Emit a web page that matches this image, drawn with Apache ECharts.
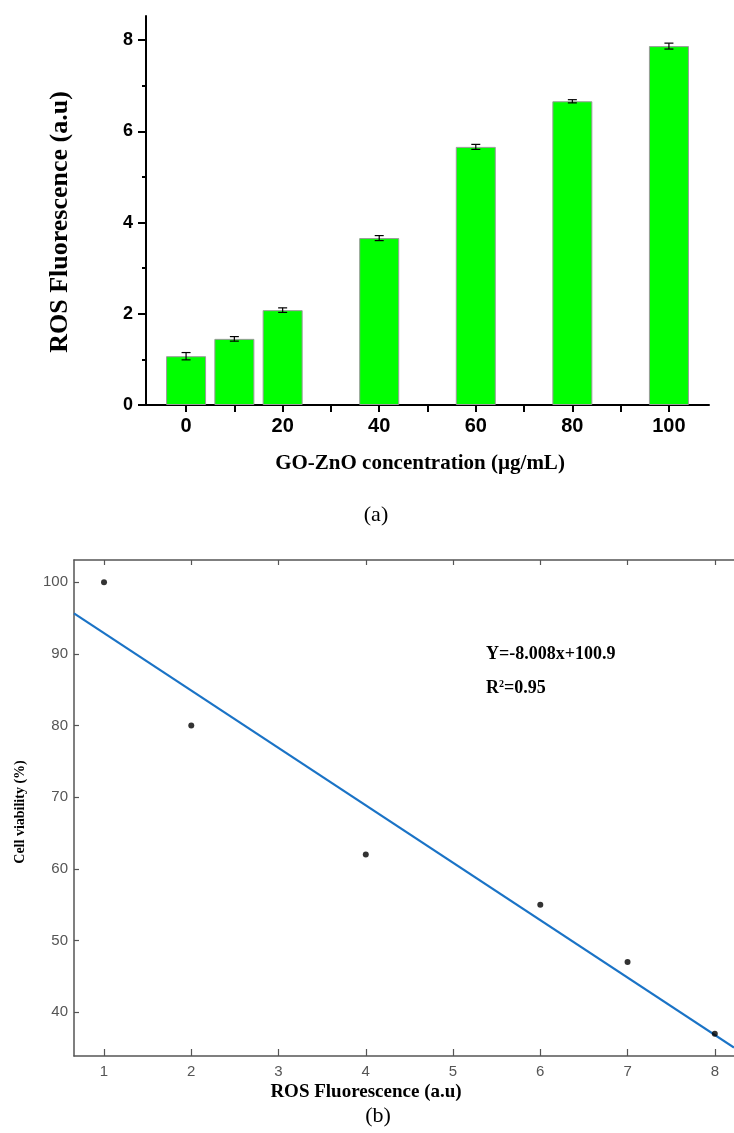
<!DOCTYPE html>
<html>
<head>
<meta charset="utf-8">
<script src="https://cdn.jsdelivr.net/npm/echarts@6/dist/echarts.min.js"></script>
<style>html,body{margin:0;padding:0;background:#fff;}#c{width:734px;height:1133px;}</style>
</head>
<body>
<div id="c"></div>
<script>
// ---- Panel (a) data ----
const concentrations = [0, 10, 20, 40, 60, 80, 100];
const rosValues = [1.07, 1.45, 2.08, 3.66, 5.66, 6.66, 7.87];
const rosErrors = [0.08, 0.05, 0.05, 0.055, 0.055, 0.035, 0.065];
const xTickValuesA = [0, 10, 20, 30, 40, 50, 60, 70, 80, 90, 100];
const xLabelValuesA = [0, 20, 40, 60, 80, 100];
const yMajorA = [0, 2, 4, 6, 8];
const yMinorA = [1, 3, 5, 7];

// ---- Panel (b) data ----
const rosFluor = [1, 2, 4, 6, 7, 8];
const viability = [100, 80, 62, 55, 47, 37];
const fitLine = [[0.656, 95.65], [8.22, 35.07]];
const xTicksB = [1, 2, 3, 4, 5, 6, 7, 8];
const yTicksB = [40, 50, 60, 70, 80, 90, 100];
const equationText = 'Y=-8.008x+100.9';
const r2Text = '0.95';

const chart = echarts.init(document.getElementById('c'), null, {renderer: 'canvas'});

const serif = '"Liberation Serif", "DejaVu Serif", serif';
const sans = '"Liberation Sans", Arial, sans-serif';
const narrow = '"Liberation Sans Narrow", "Liberation Sans", Arial, sans-serif';

const barData = concentrations.map((c, i) => [c, rosValues[i]]);
const errData = concentrations.map((c, i) => [c, rosValues[i] - rosErrors[i], rosValues[i] + rosErrors[i]]);
const scatterData = rosFluor.map((x, i) => [x, viability[i]]);

const option = {
  backgroundColor: '#ffffff',
  animation: false,
  grid: [
    {left: 146, right: 25, top: 16, bottom: 728},
    {left: 74, right: 0, top: 560, bottom: 77}
  ],
  xAxis: [
    {
      type: 'value', gridIndex: 0, min: -8.3, max: 108.3,
      axisLine: {show: true, onZero: false, lineStyle: {color: '#000', width: 2}},
      axisTick: {show: true, inside: false, length: 7, customValues: xTickValuesA, lineStyle: {color: '#000', width: 2}},
      axisLabel: {customValues: xLabelValuesA, color: '#000', fontFamily: sans, fontWeight: 'bold', fontSize: 20, margin: 11},
      splitLine: {show: false}
    },
    {
      type: 'value', gridIndex: 1, min: 0.656, max: 8.22, position: 'bottom',
      axisLine: {show: true, onZero: false, lineStyle: {color: '#555', width: 1.5}},
      axisTick: {show: true, inside: true, length: 7, customValues: xTicksB, lineStyle: {color: '#555', width: 1.2}},
      axisLabel: {customValues: xTicksB, color: '#555', fontFamily: narrow, fontSize: 15, margin: 8},
      splitLine: {show: false}
    },
    {
      type: 'value', gridIndex: 1, min: 0.656, max: 8.22, position: 'top',
      axisLine: {show: true, onZero: false, lineStyle: {color: '#555', width: 1.5}},
      axisTick: {show: true, inside: true, length: 5, customValues: xTicksB, lineStyle: {color: '#555', width: 1.2}},
      axisLabel: {show: false},
      splitLine: {show: false}
    }
  ],
  yAxis: [
    {
      type: 'value', gridIndex: 0, min: 0, max: 8.53,
      axisLine: {show: true, onZero: false, lineStyle: {color: '#000', width: 2}},
      axisTick: {show: true, inside: false, length: 8, customValues: yMajorA, lineStyle: {color: '#000', width: 2}},
      axisLabel: {customValues: yMajorA, color: '#000', fontFamily: sans, fontWeight: 'bold', fontSize: 18, margin: 13},
      splitLine: {show: false}
    },
    {
      type: 'value', gridIndex: 0, min: 0, max: 8.53, position: 'left',
      axisLine: {show: false, onZero: false},
      axisTick: {show: true, inside: false, length: 4, customValues: yMinorA, lineStyle: {color: '#000', width: 2}},
      axisLabel: {show: false},
      splitLine: {show: false}
    },
    {
      type: 'value', gridIndex: 1, min: 33.9, max: 103.1,
      axisLine: {show: true, onZero: false, lineStyle: {color: '#555', width: 1.5}},
      axisTick: {show: true, inside: true, length: 5, customValues: yTicksB, lineStyle: {color: '#555', width: 1.2}},
      axisLabel: {customValues: yTicksB, color: '#555', fontFamily: narrow, fontSize: 15, margin: 6},
      splitLine: {show: false}
    }
  ],
  series: [
    {
      type: 'bar', xAxisIndex: 0, yAxisIndex: 0, data: barData, barWidth: 40,
      itemStyle: {color: '#00ff00', borderColor: '#9a9a9a', borderWidth: 1}
    },
    {
      type: 'custom', xAxisIndex: 0, yAxisIndex: 0, data: errData,
      renderItem: function (params, api) {
        const x = api.value(0);
        const lo = api.coord([x, api.value(1)]);
        const hi = api.coord([x, api.value(2)]);
        const w = 4.5;
        const st = {stroke: '#000', lineWidth: 1.2};
        return {
          type: 'group',
          children: [
            {type: 'line', shape: {x1: lo[0], y1: lo[1], x2: hi[0], y2: hi[1]}, style: st},
            {type: 'line', shape: {x1: lo[0] - w, y1: lo[1], x2: lo[0] + w, y2: lo[1]}, style: st},
            {type: 'line', shape: {x1: hi[0] - w, y1: hi[1], x2: hi[0] + w, y2: hi[1]}, style: st}
          ]
        };
      },
      z: 5
    },
    {
      type: 'line', xAxisIndex: 1, yAxisIndex: 2, data: fitLine, symbol: 'none',
      lineStyle: {color: '#1a73c6', width: 2.2}, z: 3
    },
    {
      type: 'scatter', xAxisIndex: 1, yAxisIndex: 2, data: scatterData, symbolSize: 6,
      itemStyle: {color: '#000'}, z: 4
    }
  ],
  graphic: [
    {type: 'text', x: 60, y: 222, rotation: Math.PI / 2,
      style: {text: 'ROS Fluorescence (a.u)', font: 'bold 26px ' + serif, fill: '#000', align: 'center', verticalAlign: 'middle'}},
    {type: 'text', x: 420, y: 464,
      style: {text: 'GO-ZnO concentration (µg/mL)', font: 'bold 21px ' + serif, fill: '#000', align: 'center', verticalAlign: 'middle'}},
    {type: 'text', x: 376, y: 515,
      style: {text: '(a)', font: '22px ' + serif, fill: '#000', align: 'center', verticalAlign: 'middle'}},
    {type: 'text', x: 486, y: 654,
      style: {text: equationText, font: 'bold 18px ' + serif, fill: '#000', align: 'left', verticalAlign: 'middle'}},
    {type: 'text', x: 486, y: 688,
      style: {text: '{n|R}{s|2}{n|=' + r2Text + '}', align: 'left', verticalAlign: 'middle',
        rich: {n: {font: 'bold 18px ' + serif, fill: '#000', color: '#000'}, s: {font: 'bold 10px ' + serif, color: '#000', verticalAlign: 'top', padding: [0, 0, 8, 0]}}}},
    {type: 'text', x: 20, y: 812, rotation: Math.PI / 2,
      style: {text: 'Cell viability (%)', font: 'bold 14px ' + serif, fill: '#000', align: 'center', verticalAlign: 'middle'}},
    {type: 'text', x: 366, y: 1092,
      style: {text: 'ROS Fluorescence (a.u)', font: 'bold 19px ' + serif, fill: '#000', align: 'center', verticalAlign: 'middle'}},
    {type: 'text', x: 378, y: 1116,
      style: {text: '(b)', font: '22px ' + serif, fill: '#000', align: 'center', verticalAlign: 'middle'}}
  ]
};
chart.setOption(option);
</script>
</body>
</html>
